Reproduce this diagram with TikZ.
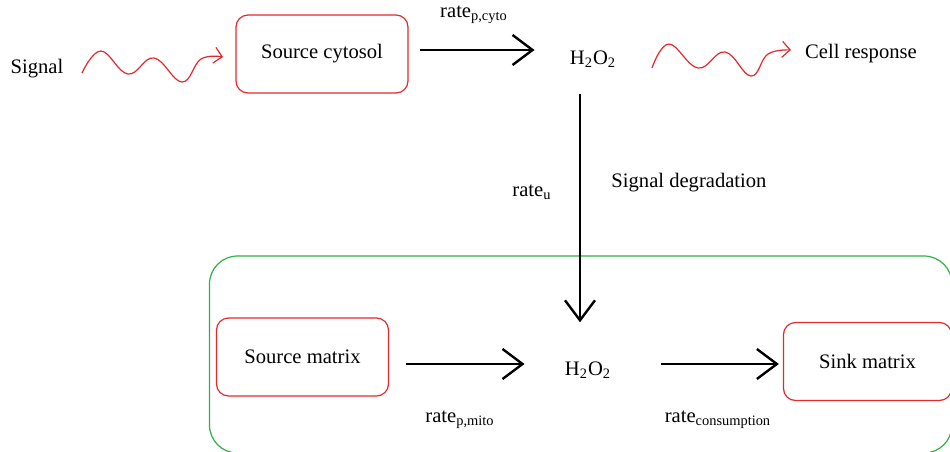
\documentclass[tikz,border=0pt]{standalone}
\usepackage{fontspec}
\setmainfont{Liberation Serif}
\usetikzlibrary{arrows.meta}
\definecolor{boxred}{RGB}{228,40,44}
\definecolor{cellgreen}{RGB}{46,176,66}
\begin{document}
\begin{tikzpicture}[x=0.5pt,y=-0.5pt,
        font=\fontsize{10.3}{12}\selectfont,
        pool/.style={draw=boxred,line width=0.6pt,rounded corners=6pt,minimum width=86pt,minimum height=39pt},
        flow/.style={line width=1.2pt,-{Straight Barb[length=10pt,width=15pt]}},
        wave/.style={boxred,line width=0.6pt,-{Straight Barb[length=4pt,width=8pt]}},
        chem/.style={inner sep=0pt}]
        \useasboundingbox (0,0) rectangle (950,451);
        \clip (0,0) rectangle (950,451);

        % mitochondrial matrix
        \draw[cellgreen,line width=0.6pt,rounded corners=14pt] (209.5,256) rectangle (952,453);

        % cytosol
        \node (signal) at (37,69) {Signal};
        \node[pool] (cyto) at (322,54) {Source cytosol};
        \node[chem] (h2otop) at (593,59) {H\textsubscript{2}O\textsubscript{2}};
        \node (response) at (861,54) {Cell response};

        \draw[wave] plot[smooth,tension=0.7] coordinates {(82,73) (101,51) (128,74) (154,58) (182,82) (201,59) (223,57)};
        \draw[wave] plot[smooth,tension=0.7] coordinates {(652,68) (669,44) (698,68) (725,52) (751,76) (768,54) (791,50)};

        \draw[flow,shorten <=5.5pt,shorten >=17.5pt] ([yshift=2pt]cyto.east) -- ([yshift=2pt]cyto.east -| h2otop.west);
        \node (ratecyto) at (474,15) {rate\textsubscript{p,cyto}};

        % matrix
        \node[pool] (smatrix) at (302.5,357) {Source matrix};
        \node[chem] (h2obot) at (588,370) {H\textsubscript{2}O\textsubscript{2}};
        \node[pool,minimum width=84pt] (sink) at (867.5,361.5) {Sink matrix};

        \draw[flow,shorten <=8.5pt,shorten >=20pt] ([yshift=-3.5pt]smatrix.east) -- ([yshift=-3.5pt]smatrix.east -| h2obot.west);
        \draw[flow,shorten <=25pt,shorten >=2pt] ([yshift=3pt]h2obot.east) -- ([yshift=3pt]h2obot.east -| sink.west);
        \node (ratemito) at (460,420) {rate\textsubscript{p,mito}};
        \node (ratecons) at (718,420) {rate\textsubscript{consumption}};

        % degradation
        \draw[flow,shorten <=13pt,shorten >=19.5pt] ([xshift=-6.5pt]h2otop.south) -- ([xshift=-6.5pt]h2otop.south |- h2obot.north);
        \node (rateu) at (532,192) {rate\textsubscript{u}};
        \node (degr) at (689,183) {Signal degradation};

    \end{tikzpicture}
\end{document}
